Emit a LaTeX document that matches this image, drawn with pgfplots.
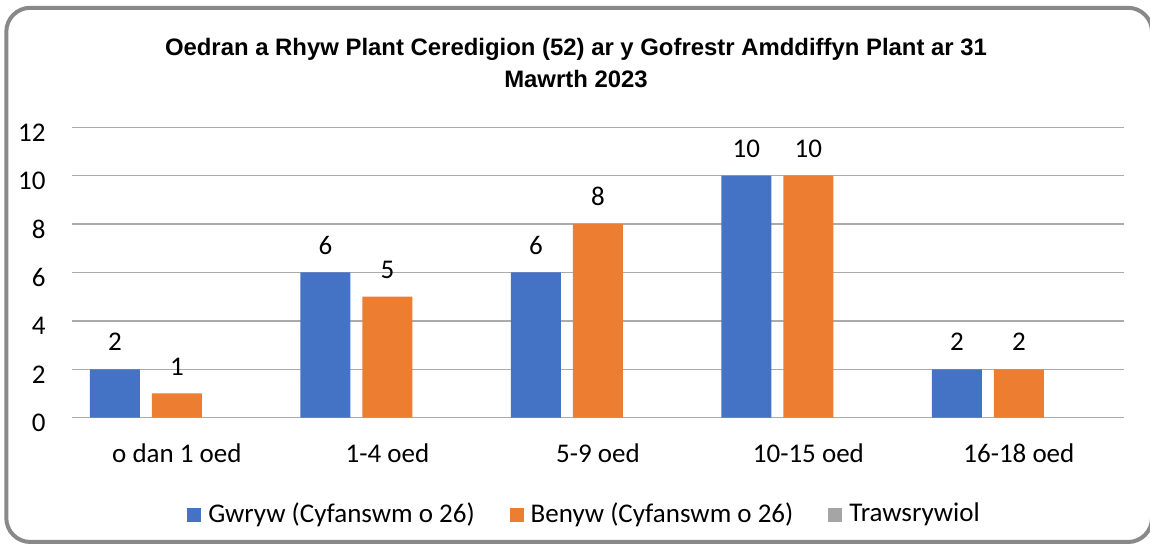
\documentclass[border=0pt]{standalone}
\usepackage{pgfplots}
\pgfplotsset{compat=1.18}
\usepackage{fontspec}
\usepackage{graphicx}
\setmainfont{Carlito}
\newfontfamily\titlefont{Liberation Sans}
\definecolor{cblue}{HTML}{4472C4}
\definecolor{corange}{HTML}{ED7D31}
\definecolor{cgray}{HTML}{A5A5A5}
\definecolor{gridc}{HTML}{ABABAB}
\definecolor{borderc}{HTML}{898989}
\newcommand\tfont{\titlefont\bfseries\fontsize{11.9}{14}\selectfont}
\newcommand\lfont{\fontsize{13.5}{16}\selectfont}
\newlength\tw
\settowidth\tw{\tfont Oedran a Rhyw Plant Ceredigion (52) ar y Gofrestr Amddiffyn Plant ar 31}
\pgfmathsetmacro\sx{411/\tw}
\begin{document}
\begin{tikzpicture}
\begin{axis}[
  scale only axis,
  width=526.2pt, height=145.2pt,
  xmin=-0.5, xmax=4.5, ymin=0, ymax=12,
  ybar=6pt, bar width=25pt,
  xtick={0,1,2,3,4},
  xticklabels={o dan 1 oed,1-4 oed,5-9 oed,10-15 oed,16-18 oed},
  ytick={0,2,4,6,8,10,12},
  /pgf/number format/assume math mode=true,
  ymajorgrids,
  grid style={gridc, line width=0.75pt},
  axis line style={draw=none},
  tick style={draw=none},
  tick label style={font=\lfont, inner sep=0pt},
  yticklabel style={anchor=east, xshift=-12.85pt, yshift=-2.7pt},
  xticklabel style={anchor=base, yshift=-18pt},
  clip=false,
  legend columns=3,
  legend style={draw=none, fill=none, at={(0.4864,-0.332)}, anchor=center,
    font=\lfont,
    nodes={inner sep=0pt},
    column sep=3.5pt,
    /tikz/every even column/.append style={column sep=17.5pt}},
]
\addplot[fill=cblue, draw=none,
  nodes near coords,
  every node near coord/.append style={font=\lfont, anchor=base, inner sep=0pt, yshift=9.2pt, black},
  legend image code/.code={\fill[cblue] (0pt,-3.8pt) rectangle (7pt,3.2pt);}]
  coordinates {(0,2) (1,6) (2,6) (3,10) (4,2)};
\addlegendentry{Gwryw (Cyfanswm o 26)}
\addplot[fill=corange, draw=none,
  nodes near coords,
  every node near coord/.append style={font=\lfont, anchor=base, inner sep=0pt, yshift=9.2pt, black},
  legend image code/.code={\fill[corange] (0pt,-3.8pt) rectangle (7pt,3.2pt);}]
  coordinates {(0,1) (1,5) (2,8) (3,10) (4,2)};
\addlegendentry{Benyw (Cyfanswm o 26)}
\addplot[fill=cgray, draw=none,
  legend image code/.code={\fill[cgray] (0pt,-3.8pt) rectangle (7pt,3.2pt);}]
  coordinates {(0,0) (1,0) (2,0) (3,0) (4,0)};
\addlegendentry{Trawsrywiol}
\end{axis}
\node[anchor=base, inner sep=0pt] at (252.15pt,180.85pt) {\scalebox{\sx}[1]{\tfont Oedran a Rhyw Plant Ceredigion (52) ar y Gofrestr Amddiffyn Plant ar 31}};
\node[anchor=base, inner sep=0pt] at (252.15pt,164.85pt) {\scalebox{\sx}[1]{\tfont Mawrth 2023}};
\draw[borderc, line width=2pt, rounded corners=12pt] (-32.7pt,204.95pt) rectangle (540.15pt,-62.15pt);
\pgfresetboundingbox
\useasboundingbox (-35.85pt,-63.15pt) rectangle (539.15pt,208.85pt);
\end{tikzpicture}
\end{document}
